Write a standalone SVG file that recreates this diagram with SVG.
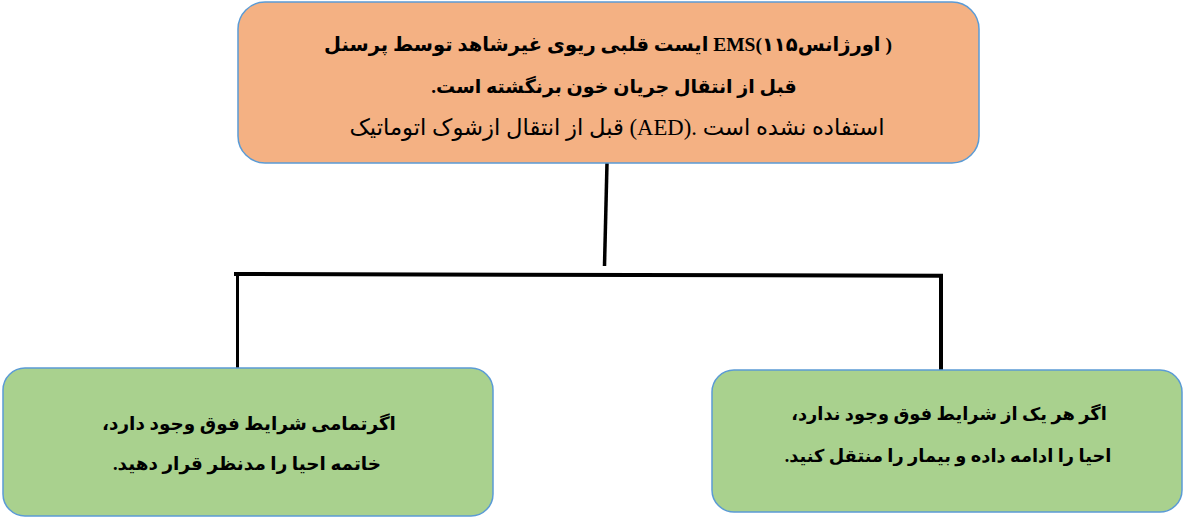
<svg xmlns="http://www.w3.org/2000/svg" width="1184" height="518" viewBox="0 0 1184 518">
<style>
.box-top{fill:#F4B183;stroke:#5B9BD5;stroke-width:1.5}
.box-green{fill:#A9D18E;stroke:#5B9BD5;stroke-width:1.5}
.t{font-family:"Liberation Serif","DejaVu Sans",serif;fill:#000;text-anchor:middle;direction:rtl}
.b{font-weight:bold}
.conn{stroke:#000;fill:none;stroke-linecap:butt}
</style>
<rect width="1184" height="518" fill="#fff"/>
<g id="connectors">
<line class="conn" x1="607" y1="163" x2="604.5" y2="266" stroke-width="3.5"/>
<line class="conn" x1="234" y1="274" x2="943" y2="275.8" stroke-width="4"/>
<line class="conn" x1="237.5" y1="272" x2="237.5" y2="368" stroke-width="3"/>
<line class="conn" x1="941" y1="274" x2="941" y2="370.5" stroke-width="4"/>
</g>
<g id="node-top">
<rect class="box-top" x="238" y="2" width="741" height="161" rx="27" ry="27"/>
<text class="t b" x="608" y="51" font-size="19.5">( اورژانس۱۱۵)EMS ایست قلبی ریوی غیرشاهد توسط پرسنل</text>
<text class="t b" x="614" y="93" font-size="19">قبل از انتقال جریان خون برنگشته است.</text>
<text class="t" x="617" y="135" font-size="22.7">استفاده نشده است .(AED) قبل از انتقال ازشوک اتوماتیک</text>
</g>
<g id="node-left">
<rect class="box-green" x="3" y="368" width="490" height="148" rx="22" ry="22"/>
<text class="t b" x="249" y="430" font-size="18.4">اگرتمامی شرایط فوق وجود دارد،</text>
<text class="t b" x="247" y="470" font-size="18.4">خاتمه احیا را مدنظر قرار دهید.</text>
</g>
<g id="node-right">
<rect class="box-green" x="712" y="370" width="470" height="142" rx="22" ry="22"/>
<text class="t b" x="949" y="420" font-size="17.8">اگر هر یک از شرایط فوق وجود ندارد،</text>
<text class="t b" x="948" y="462" font-size="17.8">احیا را ادامه داده و بیمار را منتقل کنید.</text>
</g>
</svg>
